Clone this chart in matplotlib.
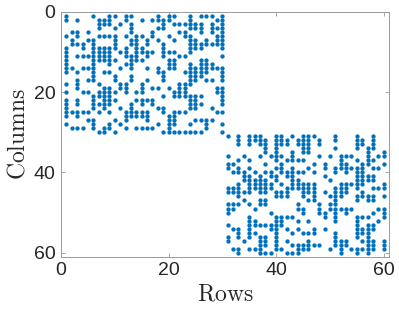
import numpy as np
import matplotlib
matplotlib.use("Agg")
import matplotlib.pyplot as plt

# nonzero rows for every column of the first block (columns 1..30)
upper_cols = [
    [1, 2, 6, 9, 10, 11, 12, 13, 14, 15, 18, 20, 22, 23, 24, 25, 26, 28],
    [5, 7, 8, 14, 25, 29],
    [2, 5, 6, 8, 11, 15, 17, 18, 19, 22, 23, 25, 26, 29],
    [8, 9, 11, 14, 20, 25, 29],
    [5, 7, 11, 14, 17, 20, 25, 27],
    [1, 7, 8, 9, 10, 11, 12, 13, 14, 15, 16, 17, 21, 22, 23, 24, 27, 28, 29],
    [2, 3, 4, 6, 9, 10, 11, 12, 18, 20, 21, 23, 25, 30],
    [2, 3, 6, 9, 10, 11, 12, 15, 19, 20, 21, 22, 23, 24, 29, 30],
    [1, 2, 3, 6, 9, 10, 11, 12, 13, 15, 19, 20, 21, 22, 23, 25, 28, 29],
    [1, 4, 6, 7, 8, 9, 12, 16, 17, 20, 22, 27, 30],
    [3, 10, 14, 18, 19, 24, 28],
    [1, 2, 6, 9, 10, 11, 13, 18, 19, 20, 25, 26, 27, 29],
    [1, 3, 4, 5, 7, 8, 11, 12, 13, 14, 16, 17, 23, 24, 25, 26],
    [6, 7, 8, 9, 10, 11, 12, 20, 22, 25, 26, 29],
    [2, 6, 9, 10, 12, 18, 19, 20, 22, 23, 25, 26, 29],
    [7, 8, 10, 11, 14, 17, 22, 25, 26, 27, 29],
    [2, 5, 6, 10, 19, 22, 23, 29],
    [1, 2, 4, 7, 14, 15, 19, 24, 28],
    [2, 3, 4, 8, 9, 10, 11, 15, 16, 17, 21, 24, 25, 30],
    [1, 2, 6, 10, 12, 13, 14, 19, 26, 27, 28, 29, 30],
    [1, 3, 7, 10, 12, 13, 14, 20, 21, 25, 26, 27, 28, 30],
    [3, 5, 11, 18, 19, 20, 21, 25, 30],
    [3, 5, 6, 11, 15, 18, 19, 20, 21, 25, 30],
    [1, 2, 3, 4, 6, 7, 8, 9, 10, 13, 14, 15, 16, 17, 18, 21, 22, 23, 24, 28, 30],
    [3, 4, 7, 8, 9, 14, 15, 16, 17, 21, 22, 23, 24, 27, 30],
    [1, 3, 4, 5, 8, 9, 12, 13, 14, 15, 16, 21, 23, 27, 30],
    [1, 7, 8, 12, 13, 14, 15, 17, 27, 28, 29],
    [1, 3, 4, 5, 8, 13, 14, 17, 24, 27],
    [2, 4, 6, 7, 8, 14, 19, 20, 25],
    [1, 2, 3, 4, 5, 6, 7, 8, 9, 11, 14, 15, 16, 17, 19, 20, 21, 22, 23, 25, 28, 30],
]

# nonzero rows for every column of the second block (columns 31..60)
lower_cols = [
    [31, 36, 38, 39, 44, 45, 48, 49, 50, 53, 56, 57],
    [38, 40, 44, 45, 48, 49, 54, 59],
    [31, 32, 33, 37, 39, 40, 43, 44, 45, 46, 48, 54, 55, 56, 59, 60],
    [36, 40, 41, 42, 45, 47, 57],
    [31, 32, 33, 37, 39, 41, 42, 43, 44, 45, 48, 51, 52, 53, 54, 55, 56, 59],
    [31, 32, 40, 42, 43, 44, 49, 52, 53, 55, 59],
    [31, 32, 33, 36, 41, 42, 43, 44, 45, 47, 48, 53, 56, 57, 58, 59, 60],
    [32, 33, 34, 35, 38, 40, 42, 43, 44, 45, 47, 48, 53, 56, 57, 58, 60],
    [36, 40, 41, 43, 44, 50, 53, 54, 60],
    [31, 32, 33, 34, 35, 36, 37, 39, 41, 42, 45, 46, 51, 52, 53, 54, 55, 56, 57, 58, 59],
    [31, 32, 33, 36, 38, 39, 40, 43, 45, 46, 51, 52, 53, 59],
    [32, 33, 37, 40, 41, 44, 45, 46, 51, 54, 57, 60],
    [31, 35, 36, 37, 39, 40, 41, 42, 43, 44, 51, 55, 58, 60],
    [32, 33, 37, 40, 42, 43, 44, 48, 49, 52, 54, 58, 59, 60],
    [31, 32, 33, 34, 35, 37, 40, 43, 44, 45, 46, 49, 50, 55, 58, 59],
    [31, 32, 33, 34, 35, 39, 43, 44, 45, 47, 52, 55, 57, 58, 59],
    [31, 38, 40, 43, 44, 45, 46, 47, 54, 55, 58],
    [32, 33, 36, 48, 49, 50, 58],
    [38, 39, 41, 45, 50, 51, 54],
    [36, 42, 46, 48, 49, 59],
    [31, 32, 34, 39, 40, 44, 45, 46, 47, 48, 49, 50, 51, 52, 55, 56, 57, 58],
    [36, 37, 38, 39, 43, 44, 45, 46, 49, 57, 58, 59, 60],
    [36, 38, 39, 40, 43, 44, 45, 49, 50, 57, 58],
    [36, 39, 43, 49, 59],
    [31, 32, 33, 34, 37, 39, 40, 41, 42, 43, 44, 46, 47, 51, 52, 53, 54, 55, 56, 59, 60],
    [32, 33, 38, 39, 40, 41, 42, 43, 45, 46, 51, 54, 55, 57, 59],
    [34, 35, 36, 37, 38, 41, 42, 46, 47, 51, 53, 54, 55, 56, 57, 58, 59, 60],
    [31, 32, 33, 34, 37, 39, 41, 42, 44, 46, 47, 50, 53, 54, 57, 58, 59],
    [36, 39, 44, 49, 52],
    [35, 36, 38, 43, 44, 46, 49, 50, 51, 57, 58, 59],
]

xs, ys = [], []
for i, rows in enumerate(upper_cols + lower_cols):
    xs += [i + 1] * len(rows)
    ys += rows

plt.rcParams['font.family'] = 'Liberation Sans'
plt.rcParams['mathtext.fontset'] = 'cm'

fig = plt.figure(figsize=(3.99, 3.13), dpi=100)
ax = fig.add_axes([0.153, 0.180, 0.822, 0.782])
ax.plot(xs, ys, 'o', color='#0072BD', markersize=3.1, markeredgewidth=0)

ax.set_xlim(0, 61)
ax.set_ylim(61, 0)
ax.set_xticks([0, 20, 40, 60])
ax.set_yticks([0, 20, 40, 60])
ax.tick_params(direction='in', length=3, width=0.6, top=True, right=True,
               labelsize=14, colors='#999999', labelcolor='#262626', pad=4)
for s in ax.spines.values():
    s.set_color('#999999')
    s.set_linewidth(0.7)

ax.set_xlabel(r'$\mathrm{Rows}$', fontsize=17, color='#262626', labelpad=3)
ax.set_ylabel(r'$\mathrm{Columns}$', fontsize=17, color='#262626', labelpad=3)

fig.savefig('out.png', dpi=100)
